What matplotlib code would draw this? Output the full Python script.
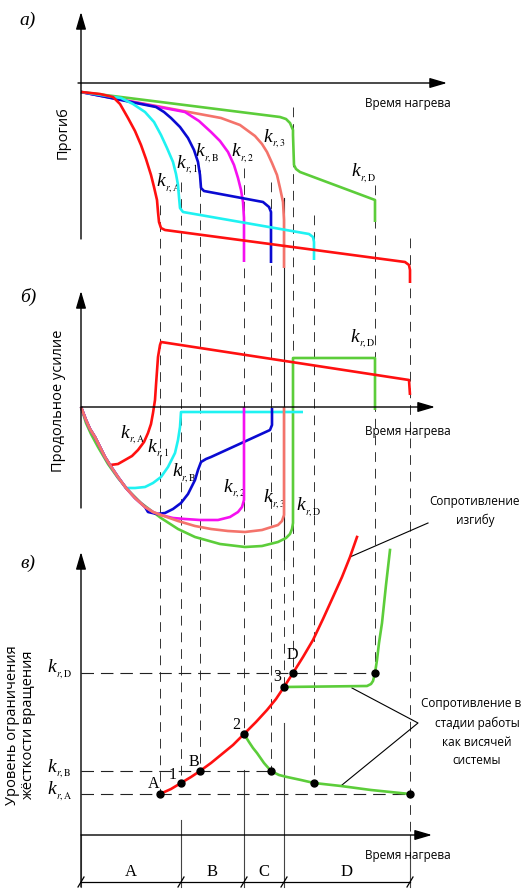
import matplotlib
matplotlib.use('Agg')
import matplotlib.pyplot as plt

plt.rcParams['mathtext.fontset'] = 'stix'
plt.rcParams['lines.scale_dashes'] = False
plt.rcParams['font.family'] = ['Open Sans', 'DejaVu Sans']

# ---------------- data (heating-time units, schematic values) ----------------
t_A, t_1, t_B, t_2, t_Bend, t_3, t_D, t_1end, t_Dend, t_Aend = 79, 100, 119, 163, 190, 203, 212, 233, 294, 329
key_times = [t_A, t_1, t_B, t_2, t_Bend, t_3, t_D, t_1end, t_Dend, t_Aend]

# a) deflection
defl_red_t = [0, 19, 32, 39, 47, 54, 60, 65, 70, 73, 76, 77, 78, 80, 84, 324, 328, 329, 329]
defl_red_v = [-9, -11, -14, -21, -35, -48, -62, -76, -92, -104, -117, -129, -139, -145, -147, -179, -182, -187, -200]
defl_cyan_t = [0, 40, 52, 64, 73, 80, 86, 92, 95, 97, 98, 99, 102, 228, 232, 233, 233]
defl_cyan_v = [-9, -15, -21, -29, -39, -52, -65, -79, -91, -102, -114, -125, -129, -151, -154, -159, -177]
defl_blue_t = [0, 75, 83, 90, 99, 107, 113, 117, 119, 120, 123, 182, 188, 190, 190]
defl_blue_v = [-9, -24, -29, -35, -44, -55, -67, -79, -92, -105, -108, -119, -124, -129, -180]
defl_mag_t = [0, 104, 118, 130, 139, 147, 153, 157, 160, 162, 163, 163, 163]
defl_mag_v = [-9, -29, -38, -49, -58, -69, -82, -95, -107, -119, -135, -152, -179]
defl_salmon_t = [0, 140, 159, 174, 181, 186, 191, 196, 199, 202, 203, 203]
defl_salmon_v = [-9, -35, -42, -53, -61, -69, -80, -92, -105, -119, -137, -185]
defl_green_t = [0, 199, 205, 209, 212, 212, 213, 215, 219, 294, 294]
defl_green_v = [-9, -34, -36, -40, -47, -52, -82, -86, -89, -117, -139]

# b) axial force
env_t = [0, 5, 9, 14, 19, 24, 29, 37, 45, 54, 64, 72, 80, 97, 114, 130, 147, 164, 181, 197, 201, 203, 203]
env_v = [0, -13, -22, -30, -40, -50, -58, -70, -81, -91, -100, -105, -108, -114, -119, -122, -124, -125, -123, -118, -114, -108, -101]
force_salmon_t = env_t + [203]
force_salmon_v = env_v + [0]
force_red_t = env_t[:7] + [37, 44, 51, 57, 63, 67, 70, 72, 74, 75, 77, 79, 80, 328, 329]
force_red_v = env_v[:7] + [-57, -53, -49, -43, -35, -26, -17, -6, 7, 22, 50, 62, 65, 27, 12]
force_cyan_t = env_t[:9] + [54, 64, 72, 80, 87, 94, 97, 99, 100, 222]
force_cyan_v = env_v[:9] + [-81, -80, -76, -70, -60, -46, -33, -20, -5, -5]
force_blue_t = env_t[:11] + [67, 76, 84, 92, 100, 107, 114, 117, 120, 125, 130, 189, 191, 191]
force_blue_v = env_v[:11] + [-105, -107, -106, -102, -96, -87, -73, -63, -55, -52, -50, -23, -18, -1]
force_mag_t = env_t[:13] + [92, 104, 119, 137, 149, 157, 161, 163, 163]
force_mag_v = env_v[:13] + [-111, -112, -113, -113, -110, -105, -100, -93, 0]
force_green_t = [0, 5, 10, 17, 27, 37, 47, 60, 80, 97, 114, 139, 164, 181, 197, 205, 209, 211, 212, 212, 294, 294]
force_green_v = [0, -16, -27, -40, -57, -71, -83, -96, -111, -122, -130, -137, -140, -139, -135, -131, -127, -122, -116, 49, 49, -3]

# c) rotational stiffness level
stiff_red_t = [79, 90, 100, 110, 119, 130, 141, 152, 163, 175, 186, 195, 203, 212, 222, 232, 242, 252, 261, 269, 276]
stiff_red_v = [41, 46, 52, 58, 64, 72, 81, 90, 101, 113, 125, 136, 148, 162, 178, 195, 216, 238, 258, 278, 298]
stiff_green_up_t = [203, 286, 290, 292, 294, 296, 298, 301, 305, 309]
stiff_green_up_v = [148, 149, 151, 154, 162, 175, 192, 212, 250, 285]
stiff_green_lo_t = [163, 168, 172, 176, 183, 190, 198, 206, 220, 233, 260, 290, 329]
stiff_green_lo_v = [101, 93, 87, 82, 72, 64, 60, 58, 55, 52, 49, 45, 41]
red_pts_t = [79, 100, 119, 163, 203, 212]
red_pts_v = [41, 52, 64, 101, 148, 162]
red_pts_lbl = ['A', '1', 'B', '2', '3', 'D']
green_pts_t = [294, 190, 233, 329]
green_pts_v = [162, 64, 52, 41]
k_A, k_B, k_D = 41, 64, 162
regions = ['A', 'B', 'C', 'D']
region_bounds = [0, t_1, t_2, t_3, t_Aend]

# ---------------- style / layout ----------------
RED = '#ff1010'; CYAN = '#1ff2f2'; BLUE = '#0a0ad2'; MAG = '#f510f0'
SALMON = '#f4736b'; GREEN = '#5ccd3a'
LW = 1.9
W, H = 524, 889
X0 = 81

fig = plt.figure(figsize=(W / 100, H / 100), dpi=100)

ax_o = fig.add_axes([0, 0, 1, 1], zorder=0)
ax_o.set_xlim(0, W); ax_o.set_ylim(H, 0); ax_o.axis('off')


def panel(y0, y1, oy):
    ax = fig.add_axes([0, 1 - y1 / H, 1, (y1 - y0) / H], zorder=1)
    ax.set_xlim(-X0, W - X0)
    ax.set_ylim(oy - y1, oy - y0)
    ax.axis('off')
    ax.patch.set_alpha(0)
    return ax


ax_a = panel(0, 290, 83)
ax_b = panel(290, 545, 407)
ax_c = panel(545, 889, 835)

arrow_kw = dict(arrowstyle='-|>,head_length=0.75,head_width=0.22', color='black',
                lw=1.0, shrinkA=0, shrinkB=0, mutation_scale=14)


def axes_arrows(ax, vbot, vtop, tleft, tright):
    ax.annotate('', xy=(0, vtop), xytext=(0, vbot), arrowprops=arrow_kw, annotation_clip=False)
    ax.annotate('', xy=(tright, 0), xytext=(tleft, 0), arrowprops=arrow_kw, annotation_clip=False)


axes_arrows(ax_a, -156, 71, -3, 366)
axes_arrows(ax_b, -101, 116, 0, 354)
axes_arrows(ax_c, -52, 283, 0, 351)

# ---------------- guide lines (overlay, pixel layout) ----------------
guide_top = [205, 182, 170, 168, 182, 198, 107, 215, 185, 238]
guide_bot = [794, 783, 771, 734, 771, 687, 673, 783, 673, 835]
for t, y0, y1 in zip(key_times, guide_top, guide_bot):
    if t == t_3:
        ax_o.plot([X0 + t, X0 + t], [y0, 560], color='#222222', lw=0.8)
        ax_o.plot([X0 + t, X0 + t], [560, y1], color='#333333', lw=0.7, ls=(0, (7, 5)))
    else:
        ax_o.plot([X0 + t, X0 + t], [y0, y1], color='#333333', lw=0.7, ls=(0, (7, 5)))

for t, ytop in zip([0, t_1, t_2, t_3, t_Aend], [835, 820, 770, 723, 835]):
    ax_o.plot([X0 + t, X0 + t], [ytop, 887], color='#444444' if t else '#888888', lw=0.8)
ax_o.plot([X0, X0 + t_Aend], [882, 882], color='black', lw=0.9)
for t in region_bounds:
    ax_o.plot([X0 + t - 3, X0 + t + 3], [887, 877], color='black', lw=0.9)
for lbl, a, b in zip(regions, region_bounds[:-1], region_bounds[1:]):
    ax_o.text(X0 + (a + b) / 2, 872, lbl, ha='center', va='center', fontsize=12,
              family='Liberation Serif')

# ---------------- curves ----------------
for t, v, c in [(defl_green_t, defl_green_v, GREEN), (defl_salmon_t, defl_salmon_v, SALMON),
                (defl_mag_t, defl_mag_v, MAG), (defl_blue_t, defl_blue_v, BLUE),
                (defl_cyan_t, defl_cyan_v, CYAN), (defl_red_t, defl_red_v, RED)]:
    ax_a.plot(t, v, color=c, lw=LW, solid_joinstyle='round', solid_capstyle='butt', clip_on=False)

for t, v, c in [(force_green_t, force_green_v, GREEN), (force_red_t, force_red_v, RED),
                (force_cyan_t, force_cyan_v, CYAN), (force_blue_t, force_blue_v, BLUE),
                (force_mag_t, force_mag_v, MAG), (force_salmon_t, force_salmon_v, SALMON)]:
    ax_b.plot(t, v, color=c, lw=LW, solid_joinstyle='round', solid_capstyle='butt', clip_on=False)

for lvl, tend in [(k_D, t_Dend), (k_B, t_Bend), (k_A, t_Aend)]:
    ax_c.plot([0, tend], [lvl, lvl], color='#222222', lw=0.8, ls=(0, (9, 5)), clip_on=False)
ax_c.plot(stiff_red_t, stiff_red_v, color=RED, lw=LW, solid_joinstyle='round', clip_on=False)
ax_c.plot(stiff_green_up_t, stiff_green_up_v, color=GREEN, lw=LW, solid_joinstyle='round', clip_on=False)
ax_c.plot(stiff_green_lo_t, stiff_green_lo_v, color=GREEN, lw=LW, solid_joinstyle='round', clip_on=False)
ax_c.plot(red_pts_t, red_pts_v, 'o', color='black', ms=5, clip_on=False, zorder=5)
ax_c.plot(green_pts_t, green_pts_v, 'o', color='black', ms=5, clip_on=False, zorder=5)

# ---------------- texts (pixel layout) ----------------
serif = 'Liberation Serif'
for s, y in [('а)', 20), ('б)', 297), ('в)', 563)]:
    ax_o.text(28, y, s, fontsize=14, style='italic', family=serif, ha='center', va='center')

for y in [103, 432, 855]:
    ax_o.text(408, y, 'Время нагрева', fontsize=8.5, ha='center', va='center')

ax_o.text(63, 133, 'Прогиб', rotation=90, fontsize=10.5, ha='center', va='center')
ax_o.text(58, 401, 'Продольное усилие', rotation=90, fontsize=10.5, ha='center', va='center')
ax_o.text(13, 725, 'Уровень ограничения', rotation=90, fontsize=10.5, ha='center', va='center')
ax_o.text(29, 725, 'жёсткости вращения', rotation=90, fontsize=10.5, ha='center', va='center')


def klabel(x, y, sub):
    ax_o.text(x, y, 'k', fontsize=14, style='italic', family=serif, ha='center', va='center')
    ax_o.text(x + 4, y + 6, r'$r,\mathrm{%s}$' % sub, fontsize=7, ha='left', va='center')


for x, y, s in [(161, 182, 'A'), (181, 163, '1'), (200, 152, 'B'), (236, 152, '2'),
                (268, 137, '3'), (356, 172, 'D'),
                (125, 433, 'A'), (152, 447, '1'), (177, 472, 'B'), (228, 487, '2'),
                (268, 498, '3'), (301, 506, 'D'), (355, 337, 'D'),
                (52, 668, 'D'), (52, 767, 'B'), (52, 790, 'A')]:
    klabel(x, y, s)

lbl_pos = [(154, 784), (173, 775), (194, 762), (236, 725), (277, 677), (292, 655)]
for (x, y), s in zip(lbl_pos, red_pts_lbl):
    ax_o.text(x, y, s, fontsize=11.5, family=serif, ha='center', va='center')

for s, y in [('Сопротивление', 501), ('изгибу', 520)]:
    ax_o.text(475, y, s, fontsize=8.5, ha='center', va='center')
ax_o.text(471, 703, 'Сопротивление в', fontsize=8.5, ha='center', va='center')
for s, y in [('стадии работы', 723), ('как висячей', 742), ('системы', 761)]:
    ax_o.text(477, y, s, fontsize=8.5, ha='center', va='center')

ax_o.plot([428, 350], [523, 557], color='black', lw=0.8)
ax_o.plot([352, 418, 342], [688, 723, 785], color='black', lw=0.8)

fig.savefig('out.png', dpi=100)
